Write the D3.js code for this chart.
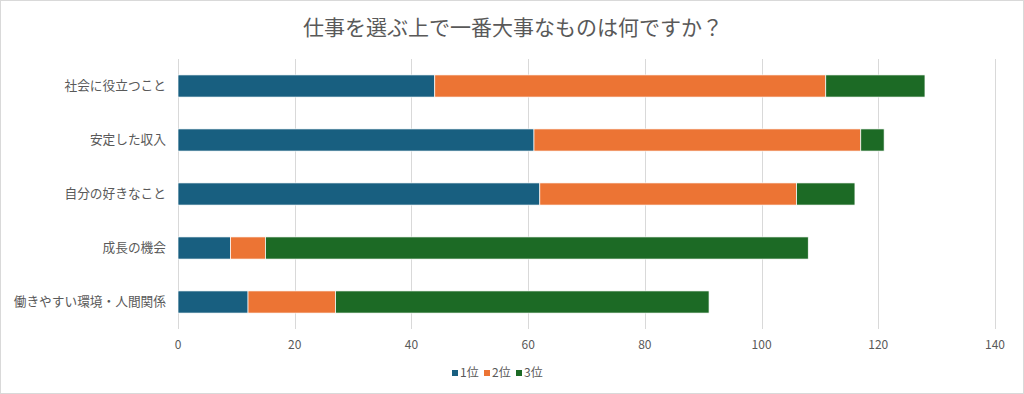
<!DOCTYPE html>
<html>
<head>
<meta charset="utf-8">
<script src="https://cdn.jsdelivr.net/npm/d3@7"></script>
<style>
  html, body { margin: 0; padding: 0; background: #fff; }
  svg { display: block; font-family: "Noto Sans CJK JP", "Noto Sans", sans-serif; }
</style>
</head>
<body>
<div id="chart"></div>
<script>
// chart data
const categories = ["社会に役立つこと", "安定した収入", "自分の好きなこと", "成長の機会", "働きやすい環境・人間関係"];
const seriesNames = ["1位", "2位", "3位"];
const first = [44, 61, 62, 9, 12];
const second = [67, 56, 44, 6, 15];
const third = [17, 4, 10, 93, 64];
const xTicks = [0, 20, 40, 60, 80, 100, 120, 140];
const colors = ["#185f80", "#ec7434", "#1c6a25"];

const width = 1024;
const height = 394;
const margin = { top: 59, left: 178, right: 29, bottom: 65 };

const rows = categories.map((c, i) => ({ cat: c, "1位": first[i], "2位": second[i], "3位": third[i] }));
const stacked = d3.stack().keys(seriesNames)(rows);

const svg = d3.select("#chart").append("svg")
  .attr("width", width)
  .attr("height", height);

// outer frame
svg.append("rect")
  .attr("x", 0.5).attr("y", 0.5)
  .attr("width", width - 1).attr("height", height - 1)
  .attr("fill", "#fff")
  .attr("stroke", "#d9d9d9");

const x = d3.scaleLinear().domain([0, 140]).range([margin.left, width - margin.right]);
const y = d3.scaleBand().domain(categories).range([margin.top, height - margin.bottom]).paddingInner(0.59).paddingOuter(0.295);

// gridlines
svg.append("g")
  .selectAll("line")
  .data(xTicks)
  .join("line")
  .attr("x1", d => Math.round(x(d)) + 0.5)
  .attr("x2", d => Math.round(x(d)) + 0.5)
  .attr("y1", margin.top)
  .attr("y2", height - margin.bottom)
  .attr("stroke", "#d9d9d9")
  .attr("stroke-width", 1);

// bars
svg.append("g")
  .selectAll("g")
  .data(stacked)
  .join("g")
  .attr("fill", (d, i) => colors[i])
  .selectAll("rect")
  .data(d => d)
  .join("rect")
  .attr("x", d => x(d[0]))
  .attr("y", d => y(d.data.cat))
  .attr("width", d => x(d[1]) - x(d[0]))
  .attr("height", y.bandwidth())
  .attr("stroke", "#fff")
  .attr("stroke-width", 0.7);

// x tick labels
svg.append("g")
  .selectAll("text")
  .data(xTicks)
  .join("text")
  .attr("x", d => x(d))
  .attr("y", height - margin.bottom + 20)
  .attr("text-anchor", "middle")
  .attr("font-size", 12)
  .attr("fill", "#595959")
  .text(d => d);

// category labels
svg.append("g")
  .selectAll("text")
  .data(categories)
  .join("text")
  .attr("x", margin.left - 12)
  .attr("y", d => y(d) + y.bandwidth() / 2)
  .attr("dy", "0.35em")
  .attr("text-anchor", "end")
  .attr("font-size", 12.7)
  .attr("fill", "#595959")
  .text(d => d);

// title
svg.append("text")
  .attr("x", width / 2 + 1)
  .attr("y", 35)
  .attr("text-anchor", "middle")
  .attr("font-size", 21)
  .attr("fill", "#595959")
  .text("仕事を選ぶ上で一番大事なものは何ですか？");

// legend
const legend = svg.append("g");
const itemW = 32;
const legendStart = 452;
seriesNames.forEach((s, i) => {
  const lx = legendStart + i * itemW;
  legend.append("rect")
    .attr("x", lx).attr("y", 370)
    .attr("width", 6).attr("height", 6)
    .attr("fill", colors[i]);
  legend.append("text")
    .attr("x", lx + 8)
    .attr("y", 373)
    .attr("dy", "0.35em")
    .attr("font-size", 12)
    .attr("fill", "#595959")
    .text(s);
});
</script>
</body>
</html>
